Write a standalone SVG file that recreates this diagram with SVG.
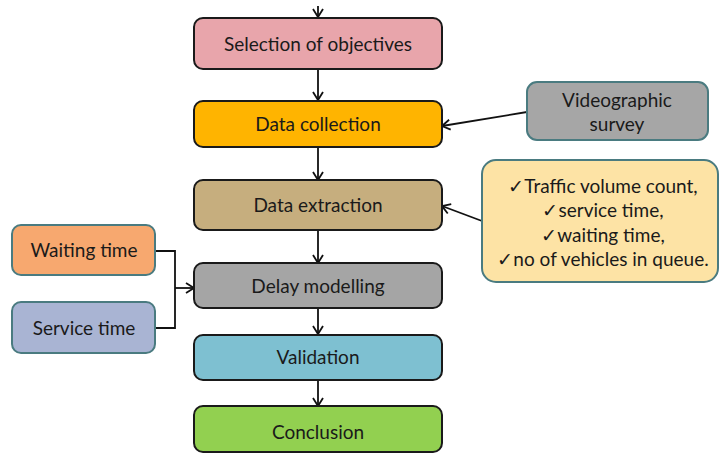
<svg xmlns="http://www.w3.org/2000/svg" width="720" height="454" viewBox="0 0 720 454">
<defs>
<marker id="ah" markerWidth="12" markerHeight="12" refX="10" refY="6" orient="auto" markerUnits="userSpaceOnUse">
<polyline points="2,1 10,6 2,11" fill="none" stroke="#111" stroke-width="1.8"/>
</marker>
<style>
.main{stroke:#1a1a1a;stroke-width:2}
.side{stroke:#4a7b80;stroke-width:2}
text{font-family:Lato,"Open Sans","Liberation Sans",sans-serif;font-size:19px;fill:#1a1a1a;text-anchor:middle}
.c{fill:none;stroke:#111;stroke-width:1.8}
</style>
</defs>
<rect width="720" height="454" fill="#fff"/>
<g id="connectors">
<line class="c" x1="318" y1="6" x2="318" y2="17" marker-end="url(#ah)"/>
<line class="c" x1="318" y1="69" x2="318" y2="100" marker-end="url(#ah)"/>
<line class="c" x1="318" y1="147" x2="318" y2="180" marker-end="url(#ah)"/>
<line class="c" x1="318" y1="230" x2="318" y2="263" marker-end="url(#ah)"/>
<line class="c" x1="318" y1="308" x2="318" y2="334" marker-end="url(#ah)"/>
<line class="c" x1="318" y1="380" x2="318" y2="406" marker-end="url(#ah)"/>
<line class="c" x1="527" y1="112" x2="442" y2="126" marker-end="url(#ah)"/>
<line class="c" x1="482" y1="221" x2="442" y2="206" marker-end="url(#ah)"/>
<polyline class="c" points="155,251 175,251 175,328 155,328"/>
<line class="c" x1="175" y1="288" x2="194" y2="288" marker-end="url(#ah)"/>
</g>
<g id="selection"><rect class="main" x="194" y="18" width="248" height="51" rx="9" fill="#E8A5AB"/><text x="318" y="51">Selection of objectives</text></g>
<g id="collection"><rect class="main" x="194" y="101" width="248" height="46" rx="9" fill="#FFB400"/><text x="318" y="131">Data collection</text></g>
<g id="extraction"><rect class="main" x="194" y="180" width="248" height="50" rx="9" fill="#C6AE7E"/><text x="318" y="212">Data extraction</text></g>
<g id="delay"><rect class="main" x="194" y="263" width="248" height="45" rx="9" fill="#A5A5A5"/><text x="318" y="293">Delay modelling</text></g>
<g id="validation"><rect class="main" x="194" y="335" width="248" height="45" rx="9" fill="#7EC0D1"/><text x="318" y="364">Validation</text></g>
<g id="conclusion"><rect class="main" x="194" y="406" width="248" height="46" rx="9" fill="#92D050"/><text x="318" y="439">Conclusion</text></g>
<g id="videographic"><rect class="side" x="527" y="82" width="181" height="58" rx="10" fill="#A6A6A6"/><text x="617" y="107">Videographic</text><text x="617" y="131">survey</text></g>
<g id="datalist"><rect class="side" x="482" y="160" width="236" height="122" rx="14" fill="#FDE3A5"/>
<text x="603" y="193">✓Traffic volume count,</text>
<text x="603" y="217">✓service time,</text>
<text x="603" y="242">✓waiting time,</text>
<text x="603" y="266">✓no of vehicles in queue.</text></g>
<g id="waiting"><rect class="side" x="12" y="225" width="143" height="50" rx="9" fill="#F7A86F"/><text x="84" y="257">Waiting time</text></g>
<g id="service"><rect class="side" x="12" y="302" width="143" height="51" rx="9" fill="#A9B4D3"/><text x="84" y="335">Service time</text></g>
</svg>
